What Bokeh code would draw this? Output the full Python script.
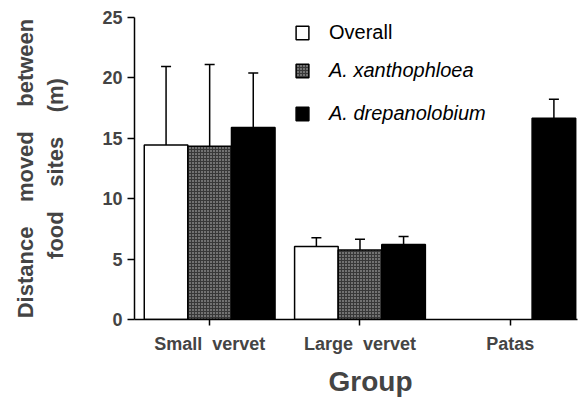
import numpy as np
from bokeh.plotting import figure
from bokeh.models import (ColumnDataSource, Range1d, FixedTicker, Whisker,
                          Legend, LegendItem, TeeHead, LinearAxis, Title)
from bokeh.embed import file_html
from bokeh.resources import INLINE

# ---- data ----
groups = ["Small\u00a0\u00a0vervet", "Large\u00a0\u00a0vervet", "Patas"]
group_pos = [0, 1, 2]
overall = [14.45, 6.05, np.nan]
overall_err = [6.5, 0.72, np.nan]
xantho = [14.35, 5.75, np.nan]
xantho_err = [6.75, 0.9, np.nan]
drepano = [15.9, 6.2, 16.65]
drepano_err = [4.5, 0.68, 1.58]
y_ticks = [0, 5, 10, 15, 20, 25]

FONT = "Liberation Sans"
SP = "\u00a0\u00a0\u00a0\u00a0"
offset = 0.29
bw = 0.29

p = figure(width=578, height=404, output_backend="svg", toolbar_location=None,
           x_range=Range1d(-0.5, 2.447), y_range=Range1d(0, 25),
           min_border_left=134, min_border_right=1, min_border_top=17,
           min_border_bottom=85)
p.outline_line_color = None
p.xgrid.visible = False
p.ygrid.visible = False
p.background_fill_color = "white"
p.border_fill_color = "white"

series = [
    ("Overall", overall, overall_err, -offset, dict(fill_color="white")),
    ("A. xanthophloea", xantho, xantho_err, 0.0,
     dict(fill_color="#727272", hatch_pattern="cross", hatch_color="#383838",
          hatch_scale=3, hatch_weight=1)),
    ("A. drepanolobium", drepano, drepano_err, offset, dict(fill_color="black")),
]

renderers = {}
for name, vals, errs, off, style in series:
    xs = [g + off for g in group_pos]
    v = np.array(vals, dtype=float)
    e = np.array(errs, dtype=float)
    src = ColumnDataSource(dict(x=xs, top=v, upper=v + e, lower=v - e))
    r = p.vbar(x="x", top="top", width=bw, source=src, line_color="black",
               line_width=1.5, **style)
    renderers[name] = r
    w = Whisker(base="x", upper="upper", lower="lower", source=src,
                line_color="black", line_width=1.5,
                upper_head=TeeHead(size=10, line_color="black", line_width=1.5),
                lower_head=TeeHead(size=10, line_color="black", line_width=1.5))
    p.add_layout(w)

# x axis
p.xaxis.ticker = FixedTicker(ticks=group_pos)
p.xaxis.major_label_overrides = {g: lab for g, lab in zip(group_pos, groups)}
p.xaxis.major_label_text_font = FONT
p.xaxis.major_label_text_font_style = "bold"
p.xaxis.major_label_text_font_size = "18px"
p.xaxis.major_label_standoff = 8
p.xaxis.major_tick_in = 0
p.xaxis.major_tick_out = 6
p.xaxis.minor_tick_line_color = None
p.xaxis.axis_line_width = 1.5
p.xaxis.major_tick_line_width = 1.5

p.add_layout(Title(text="Group", align="left", offset=194,
                   text_font=FONT, text_font_style="bold",
                   text_font_size="28px", standoff=15), "below")

# y axis
p.yaxis.ticker = FixedTicker(ticks=y_ticks)
p.yaxis.major_label_text_font = FONT
p.yaxis.major_label_text_font_style = "bold"
p.yaxis.major_label_text_font_size = "18px"
p.yaxis.major_label_standoff = 5
p.yaxis.major_tick_in = 0
p.yaxis.major_tick_out = 7
p.yaxis.minor_tick_line_color = None
p.yaxis.axis_line_width = 1.5
p.yaxis.major_tick_line_width = 1.5
p.yaxis.axis_label = "food" + SP + "sites" + SP + "(m)"
p.yaxis.axis_label_text_font = FONT
p.yaxis.axis_label_text_font_style = "bold"
p.yaxis.axis_label_text_font_size = "22px"
p.yaxis.axis_label_standoff = 31

ax2 = LinearAxis(ticker=FixedTicker(ticks=[]), axis_line_color=None,
                 major_tick_out=0, major_tick_in=0, major_label_standoff=0,
                 minor_tick_line_color=None,
                 axis_label="Distance" + SP + "moved" + SP + "between",
                 axis_label_text_font=FONT, axis_label_text_font_style="bold",
                 axis_label_text_font_size="22px", axis_label_standoff=3)
p.add_layout(ax2, "left")

common = dict(border_line_color=None, background_fill_alpha=0, padding=0,
              margin=0, glyph_width=16, glyph_height=17, label_height=17,
              label_standoff=19, label_text_font=FONT,
              label_text_font_size="20px", label_text_color="black")
leg1 = Legend(items=[LegendItem(label="Overall", renderers=[renderers["Overall"]])],
              location=(160, 275), **common)
leg2 = Legend(items=[LegendItem(label="A. xanthophloea", renderers=[renderers["A. xanthophloea"]]),
                     LegendItem(label="A. drepanolobium", renderers=[renderers["A. drepanolobium"]])],
              location=(160, 194), spacing=20, label_text_font_style="italic", **common)
p.add_layout(leg1)
p.add_layout(leg2)

open("out.html", "w").write(file_html(p, INLINE))
